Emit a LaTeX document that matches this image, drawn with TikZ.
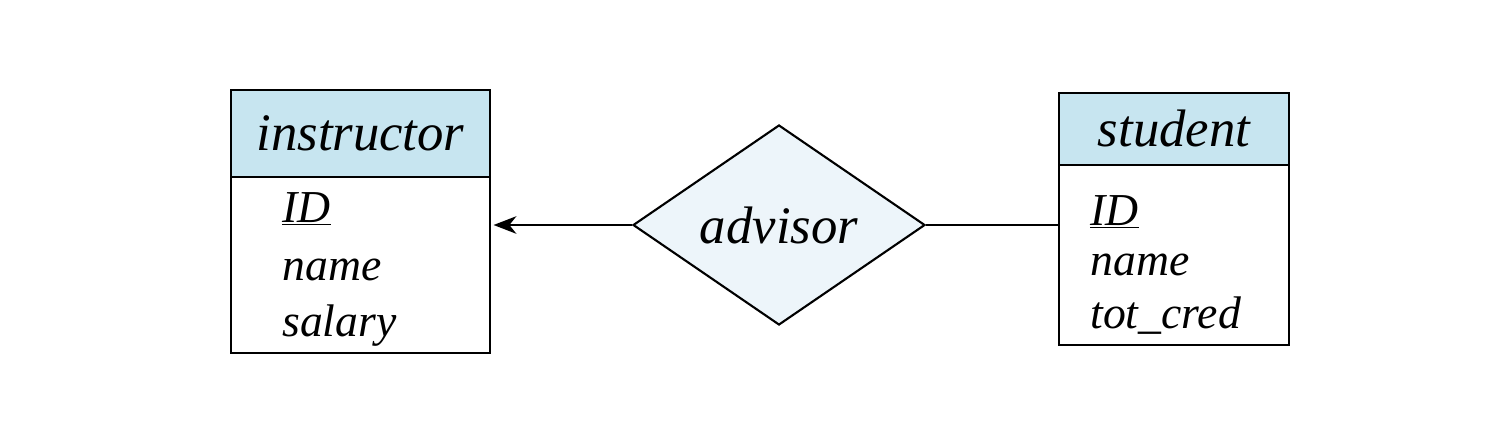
\documentclass[tikz,border=0pt]{standalone}
\usepackage{fontspec}
\setmainfont{Liberation Serif}
\usepackage{tikz}
\usetikzlibrary{shapes,calc,arrows.meta}
\definecolor{enthead}{rgb}{0.78, 0.90, 0.94}
\definecolor{relfill}{rgb}{0.93, 0.96, 0.98}
\tikzstyle{entityhead}=[draw=black,fill=enthead,line width=1.2pt,rectangle,inner sep=0pt,font=\fontsize{30}{33}\selectfont\itshape]
\tikzstyle{entitybody}=[draw=black,fill=white,line width=1.2pt,rectangle,inner sep=0pt]
\tikzstyle{attrib}=[anchor=base west,inner sep=0pt,font=\fontsize{26}{30}\selectfont\itshape]
\tikzstyle{relation}=[draw=black,fill=relfill,line width=1.2pt,diamond,inner sep=0pt,font=\fontsize{30}{33}\selectfont\itshape]
\tikzstyle{link}=[color=black,line width=1.2pt]

\begin{document}
\begin{tikzpicture}[>={Stealth[length=13pt,width=10pt,inset=4pt]}]

  \useasboundingbox (0.0, 0.0) rectangle (30.04, 8.68);

  % INSTRUCTOR
  \node[entityhead,minimum width=5.18cm,minimum height=1.74cm] (ihead) at (7.21, 6.01) {instructor};
  \node[entitybody,minimum width=5.18cm,minimum height=3.52cm] (ibody) at (7.21, 3.38) {};
  \node[attrib] (iid) at (5.64, 4.24) {\underline{ID}};
  \node[attrib] (iname) at (5.64, 3.08) {name};
  \node[attrib] (isal) at (5.64, 1.96) {salary};

  % STUDENT
  \node[entityhead,minimum width=4.60cm,minimum height=1.44cm] (shead) at (23.48, 6.10) {student};
  \node[entitybody,minimum width=4.60cm,minimum height=3.60cm] (sbody) at (23.48, 3.58) {};
  \node[attrib] (sid) at (21.80, 4.18) {\underline{ID}};
  \node[attrib] (sname) at (21.80, 3.18) {name};
  \node[attrib] (scred) at (21.80, 2.12) {tot\_cred};

  % RELATIONSHIP
  \node[relation,minimum width=5.84cm,minimum height=4.0cm] (advisor) at (15.58, 4.18) {advisor};

  % LINKS
  \draw[link,->] (advisor.west) -- ($(advisor.west -| ibody.east)+(0.05,0)$);
  \draw[link] (advisor.east) -- (advisor.east -| sbody.west);

\end{tikzpicture}
\end{document}
